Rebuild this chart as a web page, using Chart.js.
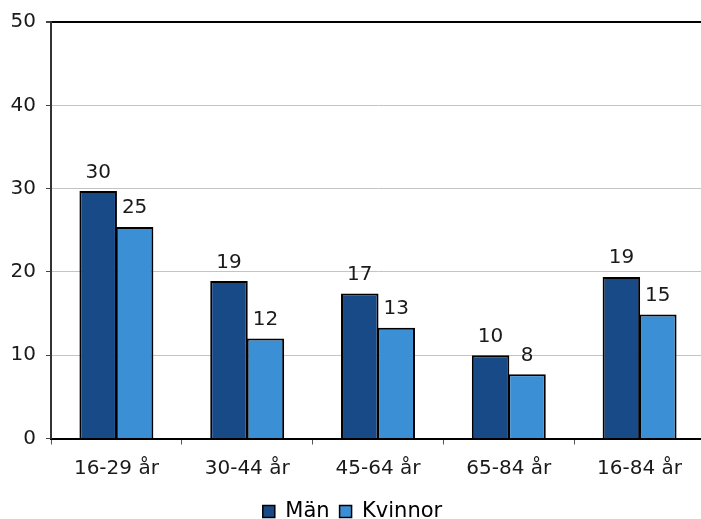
<!DOCTYPE html>
<html>
<head>
<meta charset="utf-8">
<script src="https://cdn.jsdelivr.net/npm/chart.js@4/dist/chart.umd.min.js"></script>
<style>
  html, body { margin: 0; padding: 0; background: #fff; overflow: hidden; }
  #wrap { position: absolute; left: 0; top: 0; width: 750px; height: 519px; }
</style>
</head>
<body>
<div id="wrap"><canvas id="c" width="750" height="519"></canvas></div>
<script>
const categories = ['16-29 år', '30-44 år', '45-64 år', '65-84 år', '16-84 år'];
const menValues = [29.7, 18.9, 17.4, 10.0, 19.4];
const womenValues = [25.4, 12.0, 13.3, 7.7, 14.9];
const seriesNames = ['Män', 'Kvinnor'];
const yTicks = [0, 10, 20, 30, 40, 50];

const FONT = 'DejaVu Sans, Verdana, sans-serif';
const AXIS_BOTTOM = 438.5;
const PAD_B = -13;

const dataLabels = {
  id: 'dataLabels',
  afterDatasetsDraw(chart) {
    const ctx = chart.ctx;
    ctx.save();
    ctx.font = '20px ' + FONT;
    ctx.fillStyle = '#1a1a1a';
    ctx.textAlign = 'center';
    ctx.textBaseline = 'alphabetic';
    chart.data.datasets.forEach((ds, di) => {
      const meta = chart.getDatasetMeta(di);
      meta.data.forEach((bar, i) => {
        ctx.fillText(String(Math.round(ds.data[i])), bar.x, bar.y - 13.5);
      });
    });
    ctx.restore();
  }
};

new Chart(document.getElementById('c'), {
  type: 'bar',
  data: {
    labels: categories,
    datasets: [
      { label: seriesNames[0], data: menValues, backgroundColor: '#184a87', borderColor: '#000', borderWidth: 2 },
      { label: seriesNames[1], data: womenValues, backgroundColor: '#3a8fd5', borderColor: '#000', borderWidth: 2 }
    ]
  },
  options: {
    responsive: false,
    animation: false,
    devicePixelRatio: 1,
    categoryPercentage: 0.557,
    barPercentage: 1.03,
    layout: { padding: { top: 20, left: 0, right: 45, bottom: PAD_B } },
    plugins: {
      legend: {
        position: 'bottom',
        labels: {
          font: { family: FONT, size: 21 },
          color: '#1a1a1a',
          boxWidth: 12,
          boxHeight: 12,
          padding: 10,
          generateLabels(chart) {
            return chart.data.datasets.map((ds, i) => ({
              text: ds.label,
              fillStyle: ds.backgroundColor,
              strokeStyle: '#000',
              lineWidth: 1.5,
              datasetIndex: i,
              hidden: false
            }));
          }
        }
      },
      tooltip: { enabled: false }
    },
    scales: {
      x: {
        grid: { display: true, drawOnChartArea: false, offset: true, tickLength: 6, tickColor: '#555', tickWidth: 1 },
        border: { display: true, color: '#000', width: 2 },
        ticks: { font: { family: FONT, size: 20 }, color: '#1a1a1a', padding: 12, maxRotation: 0 },
        afterFit(scale) {
          const lg = scale.chart.legend;
          const lh = lg && lg.height ? lg.height : 40;
          scale.height = 519 - PAD_B - lh - AXIS_BOTTOM;
        }
      },
      y: {
        min: 0,
        max: 50,
        afterBuildTicks(scale) { scale.ticks = yTicks.map(v => ({ value: v })); },
        grid: {
          color: (c) => (c.tick && (c.tick.value === 50 || c.tick.value === 0)) ? '#000' : '#c4c4c4',
          lineWidth: (c) => (c.tick && c.tick.value === 50) ? 2 : 1,
          tickLength: 5,
          tickColor: '#444'
        },
        border: { display: true, color: '#333', width: 2 },
        ticks: { font: { family: FONT, size: 20 }, color: '#1a1a1a', padding: 10 },
        afterFit(scale) { scale.width = 51; }
      }
    }
  },
  plugins: [dataLabels]
});
</script>
</body>
</html>
